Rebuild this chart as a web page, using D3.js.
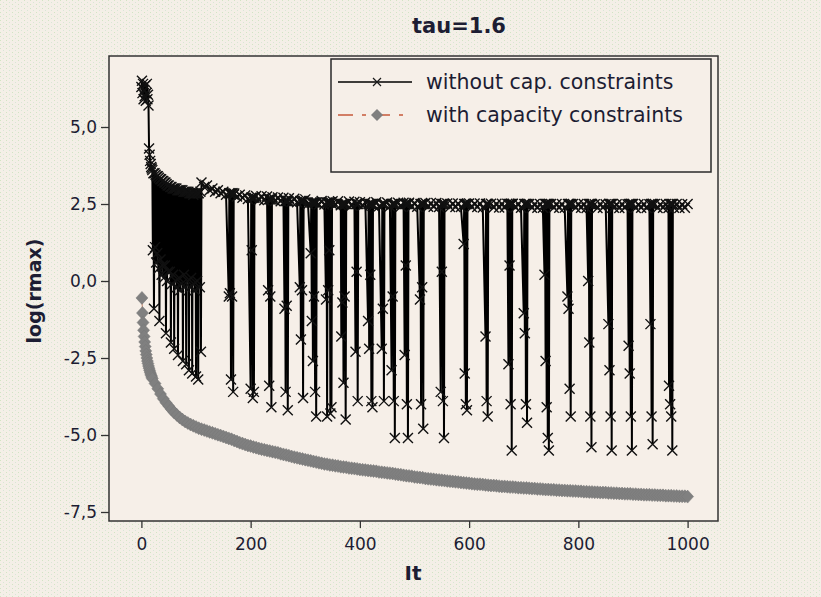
<!DOCTYPE html>
<html>
<head>
<meta charset="utf-8">
<script src="https://cdn.jsdelivr.net/npm/d3@7"></script>
<style>
  body { margin: 0; background: #f2eee5; }
</style>
</head>
<body>
<div id="chart"></div>
<script>
// ---- data ----
var xTicks = [0, 200, 400, 600, 800, 1000];
var yTicks = [-7.5, -5, -2.5, 0, 2.5, 5];

// without cap. constraints: first iterations (It 0..19)
var blackEarly = [6.3, 6.5, 6.1, 6.4, 5.9, 6.2, 6.0, 6.35, 5.85, 6.1, 6.4, 5.9, 6.05, 5.7, 4.3, 4.1, 3.9, 3.8, 3.7, 3.65];

// upper level, It 20..1000 every 5 iterations
var topStart = 20, topStep = 5;
var topVals = [
  3.6, 3.45, 3.42, 3.28, 3.3, 3.15, 3.15, 3.0, 3.07, 2.95, 3.0, 2.9, 2.95, 2.85, 2.9, 2.8, 2.88, 2.8,
  3.2, 3.05, 3.1, 2.95, 3.0, 2.9, 2.95, 2.85, 2.9, 2.8, 2.88, 2.76, 2.84, 2.74, 2.8, 2.7, 2.78, 2.66, 2.74,
  2.64, 2.76, 2.63, 2.75, 2.62, 2.74, 2.62, 2.72, 2.6, 2.71, 2.59, 2.7, 2.58, 2.69, 2.57, 2.67, 2.56, 2.66, 2.55, 2.65,
  2.49, 2.61, 2.49, 2.61, 2.48, 2.6, 2.48, 2.6, 2.47, 2.59, 2.47, 2.59, 2.46, 2.58, 2.46, 2.58, 2.45, 2.57, 2.45, 2.56,
  2.44, 2.56, 2.44, 2.56, 2.44, 2.56, 2.43, 2.55, 2.43, 2.55, 2.43, 2.55, 2.42, 2.54, 2.42, 2.54, 2.42, 2.54, 2.41, 2.53,
  2.41, 2.53, 2.41, 2.53, 2.41, 2.53, 2.41, 2.53, 2.4, 2.52, 2.4, 2.52, 2.4, 2.52, 2.4, 2.52, 2.4, 2.52, 2.4, 2.52,
  2.4, 2.52, 2.4, 2.52, 2.39, 2.51, 2.39, 2.51, 2.39, 2.51, 2.39, 2.51, 2.39, 2.51, 2.39, 2.51, 2.39, 2.51, 2.38, 2.5,
  2.38, 2.5, 2.38, 2.5, 2.38, 2.5, 2.38, 2.5, 2.38, 2.5, 2.38, 2.5, 2.38, 2.5, 2.38, 2.5, 2.38, 2.5, 2.38, 2.5,
  2.38, 2.5, 2.37, 2.5, 2.38, 2.49, 2.37, 2.5, 2.38, 2.49, 2.37, 2.5, 2.38, 2.49, 2.37, 2.5, 2.38, 2.49, 2.37, 2.5,
  2.37, 2.49, 2.38, 2.5, 2.37, 2.49, 2.38, 2.5, 2.37, 2.49, 2.38, 2.5, 2.37, 2.49, 2.38, 2.5, 2.37, 2.49, 2.38, 2.5
];

// drops: first iteration of each group, then the values of consecutive iterations
var dipStart = [21, 31, 41, 52, 63, 74, 85, 96, 107,
  160, 200, 232, 262, 290, 310, 338, 366, 392, 415, 440, 458, 482, 510, 548,
  590, 630, 672, 700, 738, 780, 818, 855, 892, 932, 966];
var dipVals = [
  [1.0, 3.5, -0.9, 3.5, 1.1, 3.45, 0.6, 3.4, 0.9, 3.4],
  [0.4, 3.35, -1.3, 3.3, 0.7, 3.3, 0.2, 3.25, 0.5, 3.25],
  [0.1, 3.2, 0.5, 3.2, -1.7, 3.15, 0.0, 3.1, 0.3, 3.1],
  [0.3, 3.05, -2.0, 3.05, -0.1, 3.0, 0.2, 3.0, -2.2, 3.0],
  [0.0, 3.0, -0.2, 2.95, -2.4, 2.95, 0.1, 2.95, -0.3, 2.95],
  [-0.1, 2.95, -2.6, 2.9, 0.2, 2.9, -0.2, 2.9, -2.7, 2.9],
  [0.0, 2.9, -2.9, 2.85, -0.2, 2.85, 0.1, 2.85, -3.0, 2.85],
  [-0.1, 2.85, -0.3, 2.85, -3.1, 2.85, 0.0, 2.85, -3.2, 2.85],
  [-0.2, 2.9, -2.3, 3.2],
  [-0.5, 2.85, -0.4, 2.85, -3.2, 2.85, -0.5, 2.85, -3.6, 2.8],
  [-3.5, 2.7, 1.0, 2.7, -3.8, 2.7, -3.6, 2.7],
  [-0.3, 2.65, -3.4, 2.65, -0.5, 2.65, -4.1, 2.65],
  [-0.9, 2.6, -3.6, 2.6, -0.8, 2.6, -4.2, 2.6],
  [-0.2, 2.6, -1.9, 2.6, -0.3, 2.6, -3.8, 2.6],
  [0.9, 2.55, -1.3, 2.55, -2.6, 2.55, -0.5, 2.55, -3.6, 2.55, -4.4, 2.55],
  [-0.6, 2.55, -4.4, 2.55, -0.3, 2.55, 1.0, 2.55, -4.3, 2.55, -4.1, 2.5],
  [-1.8, 2.5, -0.7, 2.5, -3.3, 2.5, -0.5, 2.5, -4.5, 2.5],
  [-2.3, 2.5, 0.3, 2.5, -3.9, 2.5],
  [-1.3, 2.5, -2.2, 2.5, 0.2, 2.5, -3.9, 2.5, -4.1, 2.5],
  [-2.2, 2.5, -0.9, 2.5, -3.9, 2.5],
  [-2.9, 2.5, -0.5, 2.5, -3.9, 2.5, -5.1, 2.5],
  [-2.4, 2.5, 0.5, 2.5, -4.0, 2.5, -5.1, 2.5],
  [-0.6, 2.5, -4.0, 2.5, -0.2, 2.5, -4.8, 2.5],
  [-3.6, 2.5, 0.3, 2.5, -3.9, 2.5, -5.1, 2.5],
  [1.2, 2.5, -3.0, 2.5, -4.0, 2.5, -4.2, 2.5],
  [-1.8, 2.5, -3.9, 2.5, -4.4, 2.5],
  [-2.7, 2.5, 0.5, 2.5, -4.0, 2.5, -5.5, 2.5],
  [-1.05, 2.5, -1.7, 2.5, -4.0, 2.5, -4.6, 2.5],
  [0.2, 2.5, -2.6, 2.5, -4.1, 2.5, -5.1, 2.5, -5.5, 2.5],
  [-0.5, 2.5, -0.9, 2.5, -3.5, 2.5, -4.4, 2.5],
  [0.0, 2.5, -2.0, 2.5, -4.4, 2.5, -5.4, 2.5],
  [-1.4, 2.5, -2.9, 2.5, -4.4, 2.5, -5.5, 2.5],
  [-2.1, 2.5, -3.0, 2.5, -4.4, 2.5, -5.5, 2.5],
  [-1.4, 2.5, -4.4, 2.5, -5.3, 2.5],
  [-3.4, 2.5, -4.0, 2.5, -4.4, 2.5, -5.5, 2.5]
];

// with capacity constraints: It 1..20, then It 25..1000 every 5
var grayEarly = [-0.55, -1.04, -1.35, -1.6, -1.8, -1.98, -2.13, -2.27, -2.39, -2.5,
  -2.6, -2.68, -2.76, -2.83, -2.9, -2.96, -3.02, -3.07, -3.12, -3.17];
var grayStart = 25, grayStep = 5;
var grayVals = [
  -3.33, -3.5, -3.67, -3.82, -3.95, -4.06, -4.17, -4.27, -4.35, -4.43, -4.5, -4.56,
  -4.61, -4.66, -4.7, -4.74, -4.78, -4.81, -4.84, -4.87, -4.9, -4.93, -4.96, -4.99,
  -5.02, -5.05, -5.08, -5.11, -5.14, -5.18, -5.21, -5.25, -5.28, -5.31, -5.34, -5.36,
  -5.39, -5.41, -5.44, -5.46, -5.48, -5.5, -5.52, -5.54, -5.56, -5.58,
  -5.61, -5.63, -5.65, -5.67, -5.7, -5.72, -5.74, -5.76, -5.78, -5.8,
  -5.82, -5.84, -5.86, -5.88, -5.9, -5.92, -5.94, -5.95, -5.97, -5.98,
  -6.0, -6.01, -6.03, -6.04, -6.05, -6.07, -6.08, -6.09, -6.1, -6.12,
  -6.13, -6.14, -6.15, -6.16, -6.17, -6.18, -6.2, -6.21, -6.22, -6.23,
  -6.24, -6.25, -6.27, -6.28, -6.29, -6.31, -6.32, -6.33, -6.34, -6.36,
  -6.37, -6.38, -6.39, -6.41, -6.42, -6.43, -6.44, -6.45, -6.46, -6.47,
  -6.48, -6.49, -6.5, -6.51, -6.52, -6.53, -6.54, -6.55, -6.56, -6.57,
  -6.58, -6.59, -6.6, -6.6, -6.61, -6.62, -6.63, -6.64, -6.64, -6.65,
  -6.66, -6.67, -6.67, -6.68, -6.69, -6.69, -6.7, -6.71, -6.71, -6.72,
  -6.72, -6.73, -6.74, -6.74, -6.75, -6.75, -6.76, -6.77, -6.77, -6.78,
  -6.78, -6.79, -6.79, -6.8, -6.8, -6.81, -6.81, -6.82, -6.82, -6.83,
  -6.83, -6.84, -6.84, -6.85, -6.85, -6.86, -6.86, -6.87, -6.87, -6.87,
  -6.88, -6.88, -6.89, -6.89, -6.9, -6.9, -6.91, -6.91, -6.91, -6.92,
  -6.92, -6.93, -6.93, -6.94, -6.94, -6.94, -6.95, -6.95, -6.96, -6.96,
  -6.96, -6.97, -6.97, -6.97, -6.98, -6.98, -6.99, -6.99, -6.99, -7.0
];

var seriesNames = ["without cap. constraints", "with capacity constraints"];

// ---- build the point lists ----
var inDip = function(it) {
  for (var g = 0; g < dipStart.length; g++) {
    if (it >= dipStart[g] && it < dipStart[g] + dipVals[g].length) return true;
  }
  return false;
}
var black = [];
blackEarly.forEach(function(v, i) { black.push([i, v]); });
topVals.forEach(function(v, i) {
  var it = topStart + i * topStep;
  if (!inDip(it)) black.push([it, v]);
});
dipStart.forEach(function(s, g) {
  dipVals[g].forEach(function(v, j) { black.push([s + j, v]); });
});
black.sort(function(a, b) { return a[0] - b[0]; });

var gray = [];
grayEarly.forEach(function(v, i) { gray.push([i + 1, v]); });
grayVals.forEach(function(v, i) { gray.push([grayStart + i * grayStep, v]); });

// ---- svg ----
var W = 821, H = 597;
var frame = {left: 109, top: 56, right: 718, bottom: 521};

var svg = d3.select("#chart")
  .append("svg")
    .attr("width", W)
    .attr("height", H);

// dotted paper background
var defs = svg.append("defs");
var pat = defs.append("pattern")
  .attr("id", "paper")
  .attr("width", 6)
  .attr("height", 4)
  .attr("patternUnits", "userSpaceOnUse");
pat.append("rect").attr("width", 6).attr("height", 4).attr("fill", "#f4efe7");
pat.append("rect").attr("x", 0).attr("y", 0).attr("width", 1).attr("height", 1).attr("fill", "#d2e4c4");
pat.append("rect").attr("x", 3).attr("y", 2).attr("width", 1).attr("height", 1).attr("fill", "#d8e6d6");

defs.append("clipPath").attr("id", "clip")
  .append("rect")
    .attr("x", frame.left)
    .attr("y", frame.top)
    .attr("width", frame.right - frame.left)
    .attr("height", frame.bottom - frame.top);

svg.append("rect")
  .attr("width", W)
  .attr("height", H)
  .attr("fill", "url(#paper)");

// plot area
svg.append("rect")
  .attr("x", frame.left)
  .attr("y", frame.top)
  .attr("width", frame.right - frame.left)
  .attr("height", frame.bottom - frame.top)
  .attr("fill", "#f6efe8");

// scales
var x = d3.scaleLinear().domain([0, 1000]).range([141.4, 687.6]);
var y = d3.scaleLinear().domain([-7.5, 5]).range([512, 127]);

var fmt = d3.formatLocale({decimal: ",", thousands: ".", grouping: [3], currency: ["", ""], minus: "-"}).format(".1f");

var textColor = "#1d1d33";

// axes
var yAxis = svg.append("g")
  .attr("transform", "translate(" + frame.left + ",0)")
  .call(d3.axisLeft(y).tickValues(yTicks).tickFormat(fmt).tickSize(8).tickPadding(4).tickSizeOuter(0));
var xAxis = svg.append("g")
  .attr("transform", "translate(0," + frame.bottom + ")")
  .call(d3.axisBottom(x).tickValues(xTicks).tickFormat(d3.format("d")).tickSize(7).tickPadding(10).tickSizeOuter(0));

[yAxis, xAxis].forEach(function(a) {
  a.select(".domain").remove();
  a.selectAll("line").attr("stroke", "#333").attr("stroke-width", 1.3);
  a.selectAll("text")
    .style("font-family", "DejaVu Sans")
    .style("font-size", "17px")
    .attr("fill", textColor);
});

var plot = svg.append("g").attr("clip-path", "url(#clip)");

var line = d3.line()
  .x(function(d) { return x(d[0]); })
  .y(function(d) { return y(d[1]); });

var diamond = "M0,-6.5L6,0L0,6.5L-6,0Z";
var cross = "M-5,-5L5,5M-5,5L5,-5";

// with capacity constraints
plot.append("path")
  .datum(gray)
  .attr("d", line)
  .attr("fill", "none")
  .attr("stroke", "#c8866a")
  .attr("stroke-dasharray", "12,6,3,6");
plot.selectAll(".dia")
  .data(gray)
  .enter()
  .append("path")
    .attr("class", "dia")
    .attr("d", diamond)
    .attr("transform", function(d) { return "translate(" + x(d[0]) + "," + y(d[1]) + ")"; })
    .attr("fill", "#808080")
    .attr("stroke", "#777")
    .attr("stroke-width", 0.5);

// without cap. constraints
plot.append("path")
  .datum(black)
  .attr("d", line)
  .attr("fill", "none")
  .attr("stroke", "#000")
  .attr("stroke-width", 2);
plot.selectAll(".crs")
  .data(black)
  .enter()
  .append("path")
    .attr("class", "crs")
    .attr("d", cross)
    .attr("transform", function(d) { return "translate(" + x(d[0]) + "," + y(d[1]) + ")"; })
    .attr("fill", "none")
    .attr("stroke", "#111")
    .attr("stroke-width", 1.4);

// frame
svg.append("rect")
  .attr("x", frame.left)
  .attr("y", frame.top)
  .attr("width", frame.right - frame.left)
  .attr("height", frame.bottom - frame.top)
  .attr("fill", "none")
  .attr("stroke", "#333")
  .attr("stroke-width", 1.5);

// legend
var lg = svg.append("g");
lg.append("rect")
  .attr("x", 331)
  .attr("y", 59)
  .attr("width", 380)
  .attr("height", 113)
  .attr("fill", "#f6efe8")
  .attr("stroke", "#2a2a2a")
  .attr("stroke-width", 1.5);
lg.append("line")
  .attr("x1", 338).attr("x2", 412)
  .attr("y1", 82).attr("y2", 82)
  .attr("stroke", "#000").attr("stroke-width", 1.3);
lg.append("path")
  .attr("d", "M-4,-4L4,4M-4,4L4,-4")
  .attr("transform", "translate(377,82)")
  .attr("stroke", "#1a1a1a").attr("stroke-width", 1.2);
lg.append("line")
  .attr("x1", 338).attr("x2", 412)
  .attr("y1", 115).attr("y2", 115)
  .attr("stroke", "#c65a3a").attr("stroke-width", 1.6)
  .attr("stroke-dasharray", "15,9,4,9");
lg.append("path")
  .attr("d", "M0,-6L6,0L0,6L-6,0Z")
  .attr("transform", "translate(377,115)")
  .attr("fill", "#7f7f7f");
lg.selectAll(".lt")
  .data(seriesNames)
  .enter()
  .append("text")
    .attr("x", 426)
    .attr("y", function(d, i) { return i == 0 ? 89 : 122; })
    .style("font-family", "DejaVu Sans")
    .style("font-size", "20.5px")
    .attr("fill", textColor)
    .text(function(d) { return d; });

// titles
svg.append("text")
  .attr("x", 459)
  .attr("y", 33)
  .attr("text-anchor", "middle")
  .style("font-family", "DejaVu Sans")
  .style("font-weight", "bold")
  .style("font-size", "21px")
  .attr("fill", textColor)
  .text("tau=1.6");

svg.append("text")
  .attr("x", 413)
  .attr("y", 580)
  .attr("text-anchor", "middle")
  .style("font-family", "DejaVu Sans")
  .style("font-weight", "bold")
  .style("font-size", "20px")
  .attr("fill", textColor)
  .text("It");

svg.append("text")
  .attr("transform", "translate(41,291) rotate(-90)")
  .attr("text-anchor", "middle")
  .style("font-family", "DejaVu Sans")
  .style("font-weight", "bold")
  .style("font-size", "19px")
  .attr("fill", textColor)
  .text("log(rmax)");
</script>
</body>
</html>
